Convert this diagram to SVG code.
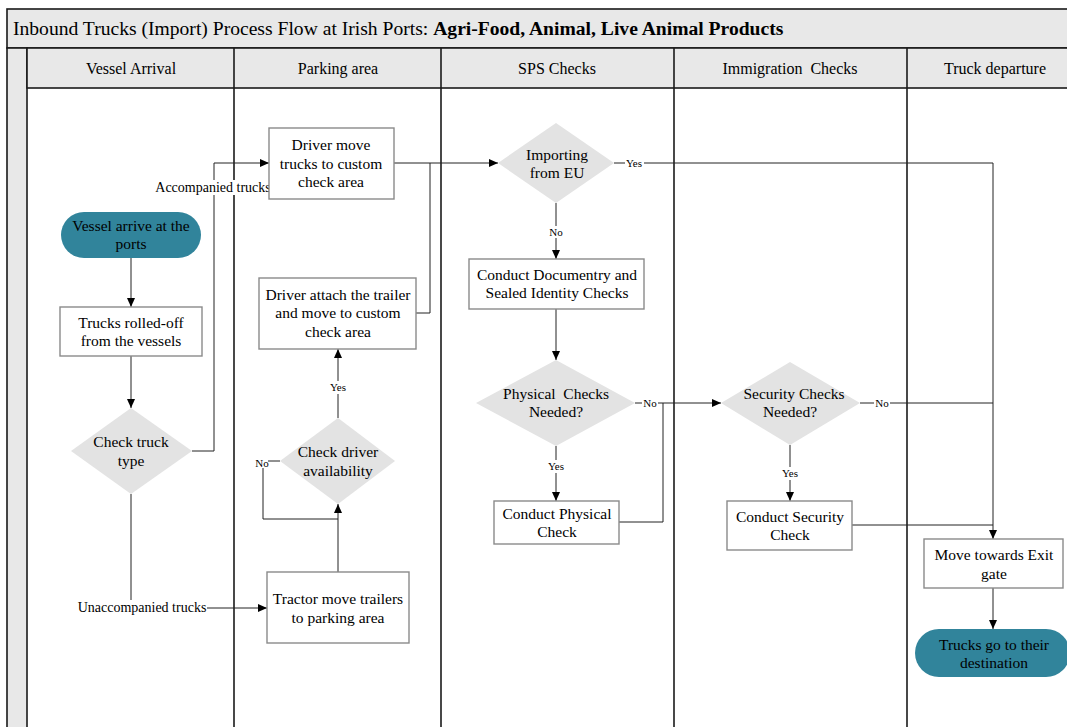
<svg xmlns="http://www.w3.org/2000/svg" width="1067" height="727" viewBox="0 0 1067 727" font-family="'Liberation Serif', 'Times New Roman', serif">
<style>
text{font-family:"Liberation Serif","Times New Roman",serif;fill:#000}
.title{font-family:"Liberation Serif",serif;font-size:19.6px}
.hdr{font-family:"Liberation Serif",serif;font-size:16px;text-anchor:middle}
.nt{font-family:"Liberation Serif",serif;font-size:15.5px;text-anchor:middle}
.lbl{font-family:"Liberation Serif",serif;font-size:14px;text-anchor:middle}
.yn{font-family:"Liberation Serif",serif;font-size:11px;text-anchor:middle}
.box{fill:#fff;stroke:#8a8a8a;stroke-width:1.4}
.dia{fill:#e3e3e3;stroke:none}
.term{fill:#31849b;stroke:none}
.lane{fill:none;stroke:#1a1a1a;stroke-width:1.6}
.band{fill:#e8e8e8;stroke:#1a1a1a;stroke-width:1.6}
.edge{fill:none;stroke:#222;stroke-width:1}
.bg{fill:#fff}
</style>
<defs>
<marker id="arr" markerWidth="9" markerHeight="8" refX="9" refY="4" orient="auto" markerUnits="userSpaceOnUse">
<path d="M0,0 L9,4 L0,8 z" fill="#000"/>
</marker>
</defs>
<rect width="1067" height="727" fill="#fff"/>
<g id="pool">
<rect class="band" x="7" y="9" width="1070" height="39"/>
<text class="title" x="13" y="35">Inbound Trucks (Import) Process Flow at Irish Ports: <tspan font-weight="bold">Agri-Food, Animal, Live Animal Products</tspan></text>
<rect class="band" x="7" y="48" width="20" height="690"/>
<rect class="band" x="27" y="48" width="1050" height="40"/>
<line class="lane" x1="234" y1="48" x2="234" y2="740"/>
<line class="lane" x1="441" y1="48" x2="441" y2="740"/>
<line class="lane" x1="674" y1="48" x2="674" y2="740"/>
<line class="lane" x1="907" y1="48" x2="907" y2="740"/>
<text class="hdr" x="131" y="74">Vessel Arrival</text>
<text class="hdr" x="338" y="74">Parking area</text>
<text class="hdr" x="557" y="74">SPS Checks</text>
<text class="hdr" x="790" y="74" xml:space="preserve">Immigration  Checks</text>
<text class="hdr" x="995" y="74">Truck departure</text>
</g>
<g id="connectors">
<path class="edge" d="M131,258 V307" marker-end="url(#arr)"/>
<path class="edge" d="M131,356 V408" marker-end="url(#arr)"/>
<path class="edge" d="M192,451 H214 V163 H269" marker-end="url(#arr)"/>
<path class="edge" d="M131,494 V608 H267" marker-end="url(#arr)"/>
<path class="edge" d="M338,572 V504" marker-end="url(#arr)"/>
<path class="edge" d="M280,461 H263 V519 H338"/>
<path class="edge" d="M338,418 V349" marker-end="url(#arr)"/>
<path class="edge" d="M416,313 H430 V163"/>
<path class="edge" d="M394,163 H498" marker-end="url(#arr)"/>
<path class="edge" d="M614,163 H993 V539" marker-end="url(#arr)"/>
<path class="edge" d="M556,203 V259" marker-end="url(#arr)"/>
<path class="edge" d="M556,309 V360" marker-end="url(#arr)"/>
<path class="edge" d="M556,446 V501" marker-end="url(#arr)"/>
<path class="edge" d="M635,403 H721" marker-end="url(#arr)"/>
<path class="edge" d="M619,522 H663 V403"/>
<path class="edge" d="M790,445 V501" marker-end="url(#arr)"/>
<path class="edge" d="M860,403 H993"/>
<path class="edge" d="M852,525 H993"/>
<path class="edge" d="M993,588 V629" marker-end="url(#arr)"/>
<rect class="bg" x="157" y="180" width="112" height="15"/>
<text class="lbl" x="213" y="192">Accompanied trucks</text>
<rect class="bg" x="78" y="600" width="129" height="15"/>
<text class="lbl" x="142" y="612">Unaccompanied trucks</text>
<rect class="bg" x="254" y="456" width="14" height="12"/>
<text class="yn" x="262" y="467">No</text>
<rect class="bg" x="329" y="381" width="18" height="13"/>
<text class="yn" x="338" y="391">Yes</text>
<rect class="bg" x="625" y="157" width="19" height="12"/>
<text class="yn" x="634" y="167">Yes</text>
<rect class="bg" x="548" y="226" width="16" height="12"/>
<text class="yn" x="556" y="236">No</text>
<rect class="bg" x="547" y="460" width="18" height="13"/>
<text class="yn" x="556" y="470">Yes</text>
<rect class="bg" x="642" y="397" width="16" height="12"/>
<text class="yn" x="650" y="407">No</text>
<rect class="bg" x="781" y="467" width="18" height="13"/>
<text class="yn" x="790" y="477">Yes</text>
<rect class="bg" x="874" y="397" width="16" height="12"/>
<text class="yn" x="882" y="407">No</text>
</g>
<g id="vessel-arrive">
<rect class="term" x="61" y="212" width="140" height="46" rx="23"/>
<text class="nt" x="131" y="231">Vessel arrive at the</text>
<text class="nt" x="131" y="249">ports</text>
</g>
<g id="rolled-off">
<rect class="box" x="60" y="307" width="142" height="49"/>
<text class="nt" x="131" y="328">Trucks rolled-off</text>
<text class="nt" x="131" y="346">from the vessels</text>
</g>
<g id="check-truck-type">
<polygon class="dia" points="131,408 192,451 131,494 71,451"/>
<text class="nt" x="131" y="447">Check truck</text>
<text class="nt" x="131" y="466">type</text>
</g>
<g id="driver-move">
<rect class="box" x="269" y="128" width="125" height="71"/>
<text class="nt" x="331" y="150">Driver move</text>
<text class="nt" x="331" y="169">trucks to custom</text>
<text class="nt" x="331" y="187">check area</text>
</g>
<g id="driver-attach">
<rect class="box" x="259" y="278" width="157" height="71"/>
<text class="nt" x="338" y="300">Driver attach the trailer</text>
<text class="nt" x="338" y="318">and move to custom</text>
<text class="nt" x="338" y="337">check area</text>
</g>
<g id="check-driver">
<polygon class="dia" points="338,418 395,461 338,504 280,461"/>
<text class="nt" x="338" y="457">Check driver</text>
<text class="nt" x="338" y="476">availability</text>
</g>
<g id="tractor-move">
<rect class="box" x="267" y="572" width="142" height="71"/>
<text class="nt" x="338" y="604">Tractor move trailers</text>
<text class="nt" x="338" y="623">to parking area</text>
</g>
<g id="importing-eu">
<polygon class="dia" points="556,123 614,163 556,203 498,163"/>
<text class="nt" x="557" y="160">Importing</text>
<text class="nt" x="557" y="178">from EU</text>
</g>
<g id="conduct-doc">
<rect class="box" x="469" y="259" width="175" height="50"/>
<text class="nt" x="557" y="280">Conduct Documentry and</text>
<text class="nt" x="557" y="298">Sealed Identity Checks</text>
</g>
<g id="physical-needed">
<polygon class="dia" points="556,360 635,403 556,446 476,403"/>
<text class="nt" x="556" y="399" xml:space="preserve">Physical  Checks</text>
<text class="nt" x="556" y="417">Needed?</text>
</g>
<g id="conduct-physical">
<rect class="box" x="494" y="501" width="125" height="43"/>
<text class="nt" x="557" y="519">Conduct Physical</text>
<text class="nt" x="557" y="537">Check</text>
</g>
<g id="security-needed">
<polygon class="dia" points="790,362 860,403 790,445 721,403"/>
<text class="nt" x="794" y="399">Security Checks</text>
<text class="nt" x="790" y="417">Needed?</text>
</g>
<g id="conduct-security">
<rect class="box" x="727" y="501" width="125" height="49"/>
<text class="nt" x="790" y="522">Conduct Security</text>
<text class="nt" x="790" y="540">Check</text>
</g>
<g id="exit-gate">
<rect class="box" x="924" y="539" width="139" height="49"/>
<text class="nt" x="994" y="560">Move towards Exit</text>
<text class="nt" x="994" y="579">gate</text>
</g>
<g id="destination">
<rect class="term" x="915" y="629" width="155" height="48" rx="24"/>
<text class="nt" x="994" y="650">Trucks go to their</text>
<text class="nt" x="994" y="668">destination</text>
</g>
</svg>
